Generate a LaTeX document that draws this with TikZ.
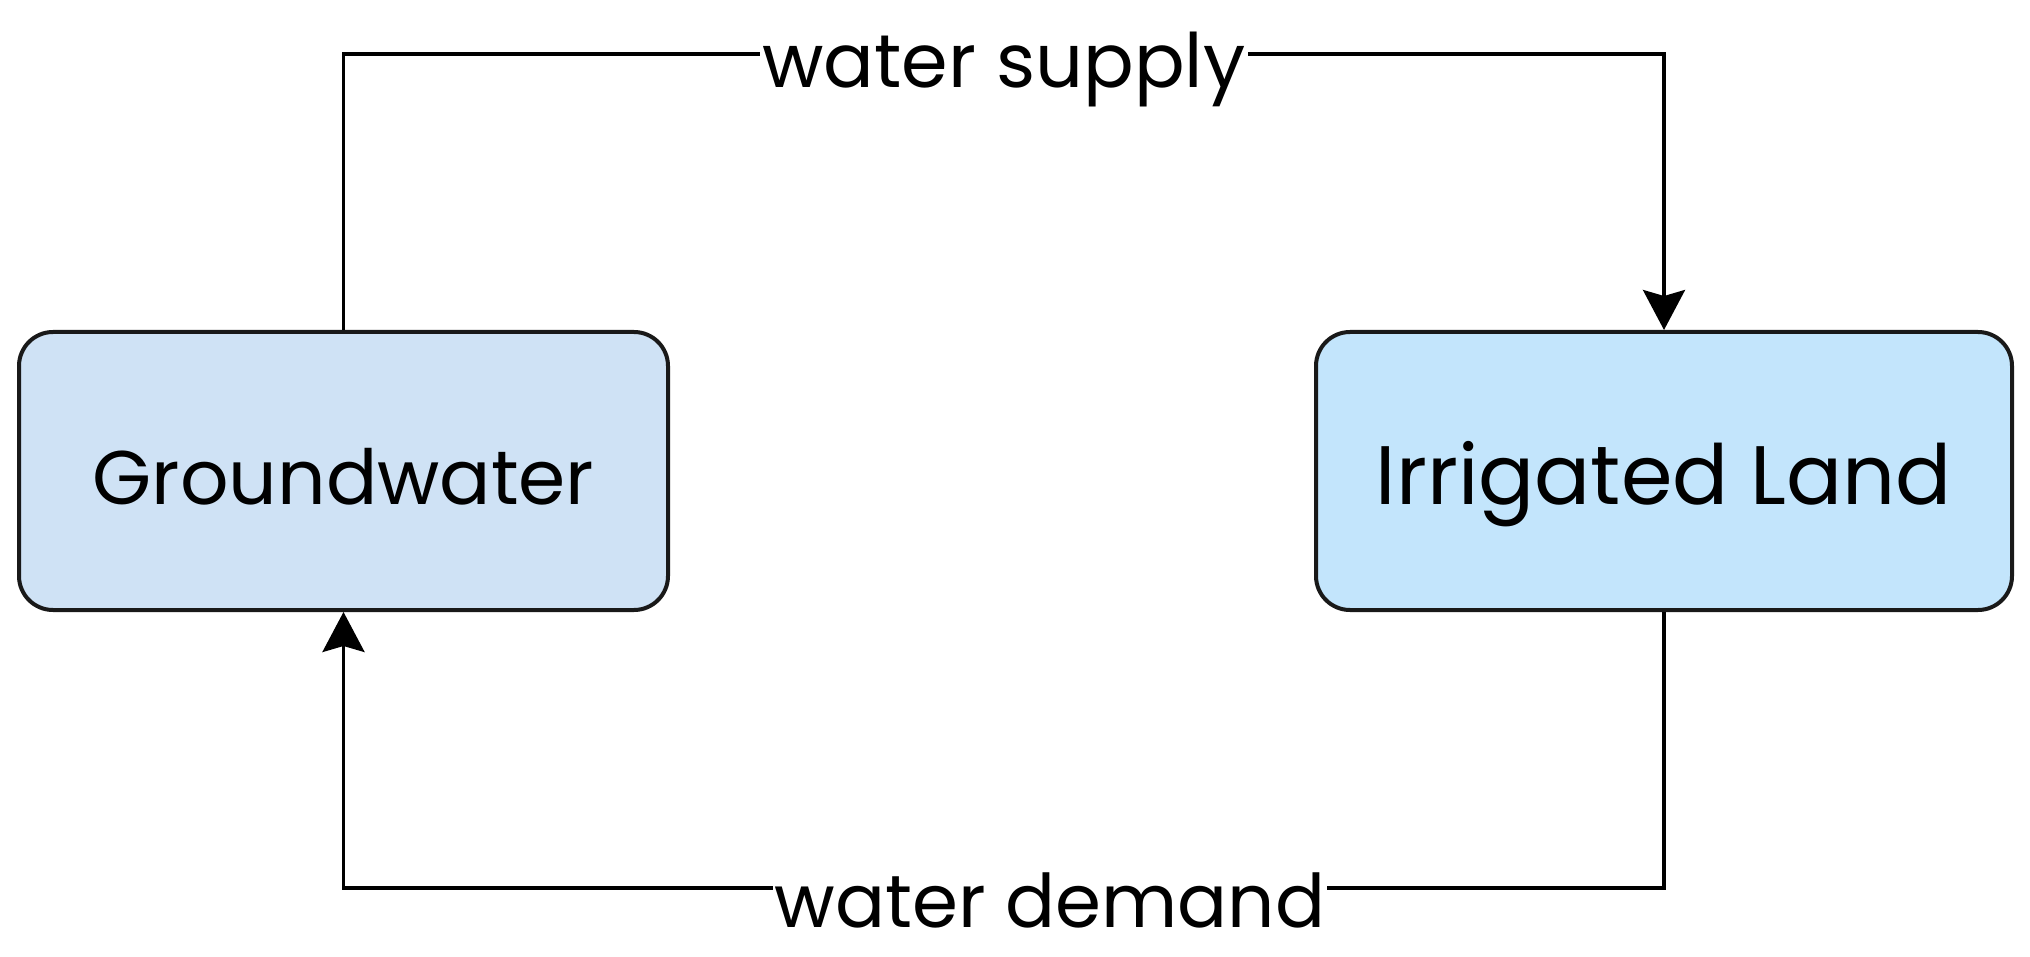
\documentclass[tikz,border=0pt]{standalone}
\usepackage{fontspec}
\setmainfont{Poppins}
\usetikzlibrary{arrows.meta}
\definecolor{gwfill}{HTML}{CFE2F5}
\definecolor{irfill}{HTML}{C3E5FC}
\begin{document}
\begin{tikzpicture}[x=1pt,y=-1pt,
  box/.style={draw=black!90, line width=4pt, rounded corners=34pt,
    minimum height=278pt, inner sep=0pt, text height=66pt, text depth=0pt},
  conn/.style={draw=black, line width=3.5pt},
  tip/.style={-{Stealth[length=40pt,width=42pt,inset=6pt]}},
  elabel/.style={fill=white, inner xsep=2pt, inner ysep=0pt, anchor=base}]
\useasboundingbox (0,0) rectangle (2030,957);
\node[box, fill=gwfill, minimum width=649pt, font=\fontsize{76pt}{90pt}\selectfont] (gw) at (343.5,471) {Groundwater};
\node[box, fill=irfill, minimum width=696pt, font=\fontsize{83pt}{98pt}\selectfont] (ir) at (1664,471) {Irrigated Land};
\coordinate (top) at (1003,54);
\coordinate (bot) at (1003,888);
\draw[conn, tip] (gw.north) |- (top) -| (ir.north);
\draw[conn, tip] (ir.south) |- (bot) -| (gw.south);
\node[elabel, font=\fontsize{75pt}{90pt}\selectfont] (ws) at (1004,88) {water supply};
\node[elabel, font=\fontsize{74pt}{90pt}\selectfont] (wd) at (1050,927) {water demand};
\end{tikzpicture}
\end{document}
